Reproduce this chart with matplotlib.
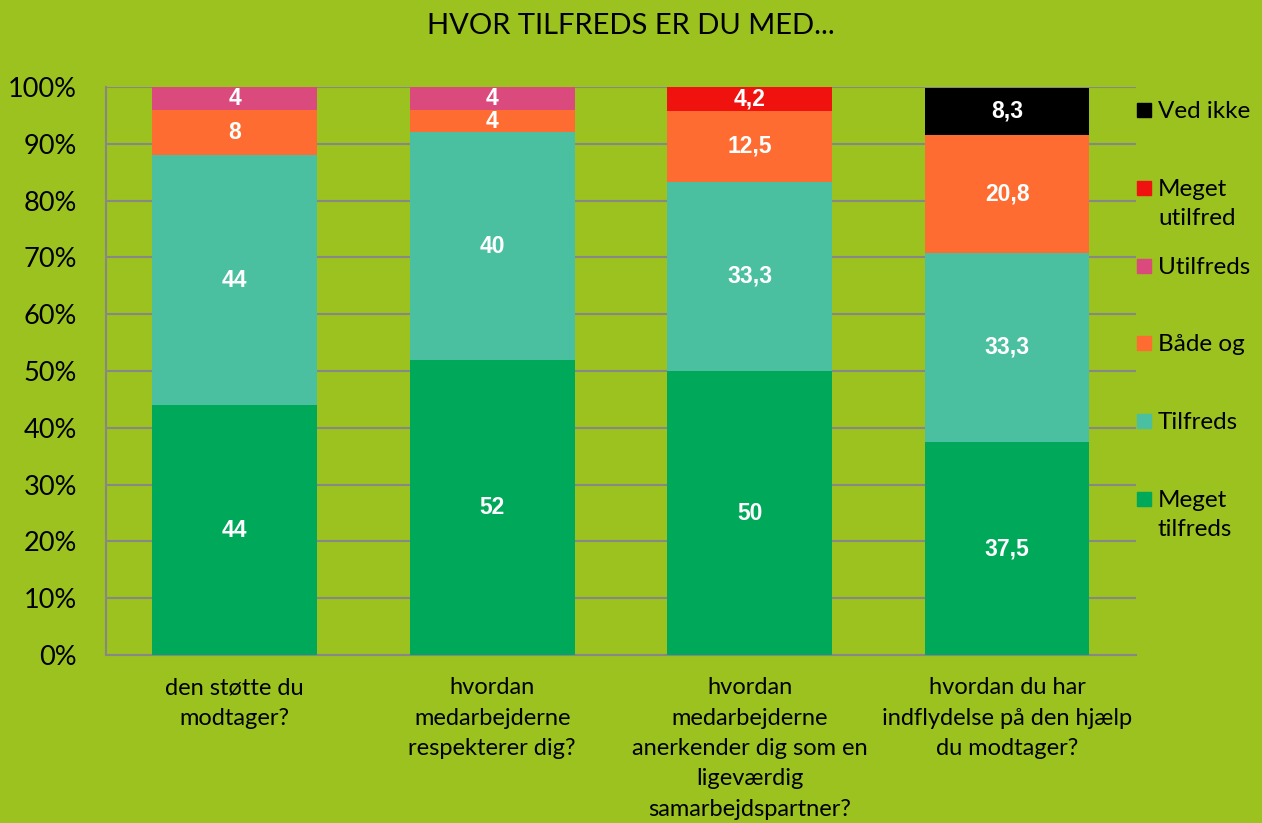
import numpy as np
import matplotlib.pyplot as plt
from matplotlib.patches import Rectangle

# data
categories = ['den støtte du\nmodtager?',
              'hvordan\nmedarbejderne\nrespekterer dig?',
              'hvordan\nmedarbejderne\nanerkender dig som en\nligeværdig\nsamarbejdspartner?',
              'hvordan du har\nindflydelse på den hjælp\ndu modtager?']
series_names = ['Meget\ntilfreds', 'Tilfreds', 'Både og', 'Utilfreds', 'Meget\nutilfred', 'Ved ikke']
meget_tilfreds = [44, 52, 50, 37.5]
tilfreds       = [44, 40, 33.3, 33.3]
baade_og       = [8, 4, 12.5, 20.8]
utilfreds      = [4, 4, 0, 0]
meget_utilfred = [0, 0, 4.2, 0]
ved_ikke       = [0, 0, 0, 8.3]

series = [meget_tilfreds, tilfreds, baade_og, utilfreds, meget_utilfred, ved_ikke]
colors = ['#00A859', '#4BC0A0', '#FF6C31', '#DB4A7D', '#F0120E', '#000000']
bg = '#9BC21F'
grid_c = '#878787'

plt.rcParams['font.family'] = ['Lato', 'DejaVu Sans']

fig = plt.figure(figsize=(12.62, 8.23), dpi=100, facecolor=bg)
ax = fig.add_axes([0.084, 0.2041, 0.816, 0.6902])
ax.set_facecolor(bg)

x = np.arange(len(categories))
bottom = np.zeros(len(categories))
for vals, name, col in zip(series, series_names, colors):
    vals = np.array(vals, dtype=float)
    ax.bar(x, vals, 0.64, bottom=bottom, color=col, label=name, zorder=3)
    for xi, v, b in zip(x, vals, bottom):
        if v > 0:
            txt = str(int(v)) if float(v).is_integer() else f'{v}'.replace('.', ',')
            ax.text(xi, b + v / 2, txt, ha='center', va='center', color='white',
                    fontsize=16.5, fontweight='bold', family='Liberation Sans', zorder=4)
    bottom += vals

ax.set_xlim(-0.5, len(categories) - 0.5)
ax.set_ylim(0, 100)
ax.set_yticks(np.arange(0, 101, 10))
ax.set_yticklabels([f'{t}%' for t in range(0, 101, 10)], fontsize=19.5)
ax.set_xticks(x)
ax.set_xticklabels(categories, fontsize=17, linespacing=1.55)
ax.tick_params(axis='y', length=0, pad=21)
ax.tick_params(axis='x', length=0, pad=16)
ax.yaxis.grid(True, color=grid_c, linewidth=1.5, zorder=0)
ax.set_axisbelow(True)
for s in ['top', 'right']:
    ax.spines[s].set_visible(False)
for s in ['left', 'bottom']:
    ax.spines[s].set_color(grid_c)
    ax.spines[s].set_linewidth(1.5)

# legend, top entry first, drawn by hand so the square sits on the first line
W, H = fig.get_size_inches() * fig.dpi
for i, (name, col) in enumerate(zip(series_names[::-1], colors[::-1])):
    yc = 1 - (110 + i * 77.8) / H
    fig.patches.append(Rectangle((1137 / W, yc - 7 / H), 14 / W, 14 / H,
                                 transform=fig.transFigure, color=col))
    fig.text(1158 / W, yc + 9 / H, name, ha='left', va='top', fontsize=17.5,
             linespacing=1.5)

fig.text(0.5, 0.968, 'HVOR TILFREDS ER DU MED...', ha='center', va='center', fontsize=21)

fig.savefig('out.png', dpi=100, facecolor=bg)
